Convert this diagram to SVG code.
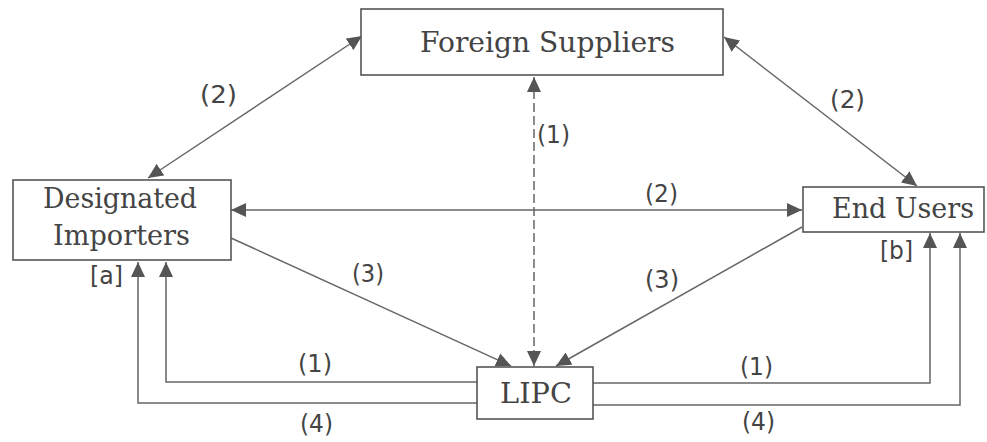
<svg xmlns="http://www.w3.org/2000/svg" width="987" height="442" viewBox="0 0 987 442">
<style>
.box{fill:#fff;stroke:#555;stroke-width:1.6}
.ln{fill:none;stroke:#666;stroke-width:1.5}
.dash{stroke-dasharray:9 4}
.t{font-family:"DejaVu Serif","Liberation Serif",serif;font-size:28px;fill:#444}
.l{font-family:"DejaVu Sans","Liberation Sans",sans-serif;font-size:24px;fill:#444}
</style>
<defs>
<marker id="ah" viewBox="0 0 15 14" refX="15" refY="7" markerWidth="15" markerHeight="14" markerUnits="userSpaceOnUse" orient="auto-start-reverse">
<path d="M0,0 L15,7 L0,14 Z" fill="#555"/>
</marker>
</defs>
<rect width="987" height="442" fill="#fff"/>
<g id="connectors">
<line class="ln" x1="362" y1="36" x2="148" y2="178" marker-start="url(#ah)" marker-end="url(#ah)"/>
<line class="ln" x1="724" y1="37" x2="917" y2="186" marker-start="url(#ah)" marker-end="url(#ah)"/>
<line class="ln" x1="231" y1="210" x2="802" y2="210" marker-start="url(#ah)" marker-end="url(#ah)"/>
<line class="ln dash" x1="534" y1="77" x2="534" y2="366" marker-start="url(#ah)" marker-end="url(#ah)"/>
<line class="ln" x1="231" y1="238" x2="511" y2="366" marker-end="url(#ah)"/>
<line class="ln" x1="802" y1="227" x2="556" y2="366" marker-end="url(#ah)"/>
<polyline class="ln" points="477,382 166,382 166,262" marker-end="url(#ah)"/>
<polyline class="ln" points="477,403 138,403 138,262" marker-end="url(#ah)"/>
<polyline class="ln" points="593,383 930,383 930,233" marker-end="url(#ah)"/>
<polyline class="ln" points="593,405 960,405 960,233" marker-end="url(#ah)"/>
<text class="l" x="200" y="103" textLength="37" lengthAdjust="spacingAndGlyphs">(2)</text>
<text class="l" x="830" y="108" textLength="35" lengthAdjust="spacingAndGlyphs">(2)</text>
<text class="l" x="645" y="202" textLength="33" lengthAdjust="spacingAndGlyphs">(2)</text>
<text class="l" x="537" y="143" textLength="33" lengthAdjust="spacingAndGlyphs">(1)</text>
<text class="l" x="352" y="282" textLength="32" lengthAdjust="spacingAndGlyphs">(3)</text>
<text class="l" x="645" y="288" textLength="34" lengthAdjust="spacingAndGlyphs">(3)</text>
<text class="l" x="298" y="372" textLength="34" lengthAdjust="spacingAndGlyphs">(1)</text>
<text class="l" x="300" y="432" textLength="33" lengthAdjust="spacingAndGlyphs">(4)</text>
<text class="l" x="740" y="375" textLength="33" lengthAdjust="spacingAndGlyphs">(1)</text>
<text class="l" x="742" y="430" textLength="33" lengthAdjust="spacingAndGlyphs">(4)</text>
<text class="l" x="90" y="284" textLength="33" lengthAdjust="spacingAndGlyphs">[a]</text>
<text class="l" x="880" y="259" textLength="33" lengthAdjust="spacingAndGlyphs">[b]</text>
</g>
<g id="foreign-suppliers">
<rect class="box" x="361" y="9" width="362" height="66"/>
<text class="t" x="420" y="52" textLength="255" lengthAdjust="spacingAndGlyphs">Foreign Suppliers</text>
</g>
<g id="designated-importers">
<rect class="box" x="13" y="180" width="218" height="80"/>
<text class="t" x="43" y="208" textLength="154" lengthAdjust="spacingAndGlyphs">Designated</text>
<text class="t" x="53" y="245" textLength="137" lengthAdjust="spacingAndGlyphs">Importers</text>
</g>
<g id="end-users">
<rect class="box" x="803" y="187" width="181" height="45"/>
<text class="t" x="832" y="218" textLength="142" lengthAdjust="spacingAndGlyphs">End Users</text>
</g>
<g id="lipc">
<rect class="box" x="477" y="367" width="116" height="52"/>
<text class="t" x="500" y="403" textLength="72" lengthAdjust="spacingAndGlyphs">LIPC</text>
</g>
</svg>
